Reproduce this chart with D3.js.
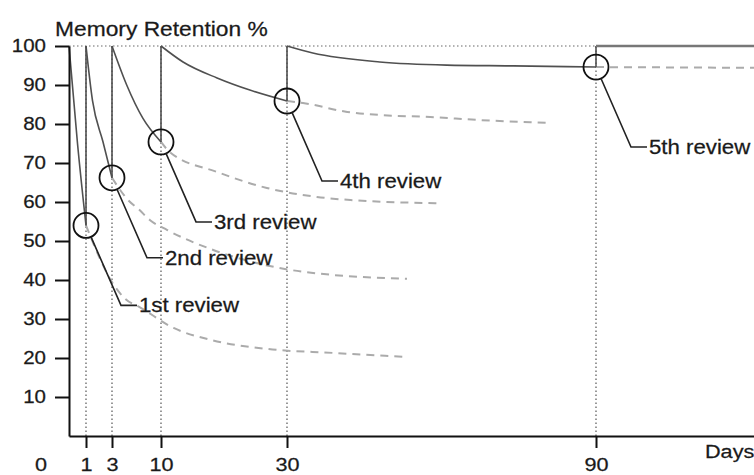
<!DOCTYPE html>
<html>
<head>
<meta charset="utf-8">
<script src="https://cdn.jsdelivr.net/npm/d3@7"></script>
<style>
  body { margin: 0; background: #fff; }
  svg { display: block; font-family: "Liberation Sans", Arial, Helvetica, sans-serif; }
  text { fill: #1a1a1a; transform-box: fill-box; stroke: #1a1a1a; stroke-width: 0.25px; }
  .wide-l { transform-origin: left center; transform: scaleX(1.14); }
  .wide-c { transform-origin: center center; transform: scaleX(1.14); }
  .wide-r { transform-origin: right center; transform: scaleX(1.14); }
</style>
</head>
<body>
<div id="chart"></div>
<script>
// Valores (dias, % de retencion)
const dayTicks = [1, 3, 10, 30, 90];
const pctTicks = [10, 20, 30, 40, 50, 60, 70, 80, 90, 100];
const reviewDays = [1, 3, 10, 30, 90];
const reviewPct = [54, 66.2, 75.4, 85.9, 94.6];
const reviewLabels = ['1st review', '2nd review', '3rd review', '4th review', '5th review'];

// curvas de olvido tras cada repaso (solidas)
const decay1 = [[0, 100], [0.5, 75], [1, 54]];
const decay2 = [[1, 100], [1.5, 86], [2.3, 75.5], [3, 66.2]];
const decay3 = [[3, 100], [5.1, 90], [7.4, 81.5], [10, 75.4]];
const decay4 = [[10, 100], [13.5, 95.9], [18.9, 91.8], [24.1, 88.7], [30, 85.9]];
const decay5 = [[30, 100], [35, 98.2], [48, 95.9], [61, 95.1], [73.9, 94.9], [90, 94.6]];
const plateau = [[90, 100], [121, 100]];

// lo que pasaria sin repaso (discontinuas)
const fade1 = [[1, 54], [2, 46], [2.9, 40], [5, 35], [7, 33], [12, 27.7], [18, 24.6], [27, 22.3], [39, 21.3], [52.5, 20.3]];
const fade2 = [[3, 66.2], [5.3, 60.5], [6.9, 58], [8.4, 55.4], [11, 52.8], [18.3, 47.7], [30.6, 42.6], [38.9, 41.3], [53.3, 40.3]];
const fade3 = [[10, 75.4], [11.4, 72.8], [18.9, 67.7], [26.8, 63.6], [35.8, 61.3], [42.3, 60.5], [59.1, 59.7]];
const fade4 = [[30, 85.9], [33.1, 85.4], [41.7, 83.1], [48.1, 82.3], [57.8, 81.8], [67.5, 81], [80.5, 80.3]];
const fade5 = [[90, 94.6], [121, 94.4]];

const decays = [decay1, decay2, decay3, decay4, decay5];
const fades = [fade1, fade2, fade3, fade4, fade5];

const W = 754, H = 475;

// Escalas (eje de dias esquematico, no lineal)
const x = d3.scaleLinear()
    .domain([0, 1, 3, 10, 30, 90, 121])
    .range([69, 86, 112, 161, 287, 596, 756]);

const y = d3.scaleLinear()
    .domain([0, 100])
    .range([436, 46]);

const svg = d3.select('#chart')
    .append('svg')
    .attr('width', W)
    .attr('height', H);

const line = d3.line()
    .x(d => x(d[0]))
    .y(d => y(d[1]))
    .curve(d3.curveMonotoneX);

// Lineas punteadas de referencia
svg.append('line')
    .attr('x1', x(0)).attr('x2', x(90))
    .attr('y1', y(100)).attr('y2', y(100))
    .style('stroke', '#9a9a9a')
    .style('stroke-width', 1.5)
    .style('stroke-dasharray', '1.5,2.5');

svg.selectAll('.vguide')
    .data(reviewDays)
    .enter().append('line')
    .attr('class', 'vguide')
    .attr('x1', d => x(d)).attr('x2', d => x(d))
    .attr('y1', y(0)).attr('y2', y(100))
    .style('stroke', '#555')
    .style('stroke-width', 1.2)
    .style('stroke-dasharray', '1.5,2.5');

// Curvas discontinuas
svg.selectAll('.fade')
    .data(fades)
    .enter().append('path')
    .attr('class', 'fade')
    .attr('d', line)
    .style('fill', 'none')
    .style('stroke', '#ababab')
    .style('stroke-width', 2)
    .style('stroke-dasharray', '8,6');

// Curvas solidas
svg.selectAll('.decay')
    .data(decays)
    .enter().append('path')
    .attr('class', 'decay')
    .attr('d', line)
    .style('fill', 'none')
    .style('stroke', '#505050')
    .style('stroke-width', 1.6);

// Saltos verticales en cada repaso
svg.selectAll('.jump')
    .data(reviewDays)
    .enter().append('line')
    .attr('class', 'jump')
    .attr('x1', d => x(d)).attr('x2', d => x(d))
    .attr('y1', (d, i) => y(reviewPct[i])).attr('y2', y(100))
    .style('stroke', '#505050')
    .style('stroke-width', 1.6);

svg.append('path')
    .datum(plateau)
    .attr('d', line)
    .style('fill', 'none')
    .style('stroke', '#777')
    .style('stroke-width', 2.6);

// Circulos y etiquetas
const r = 12.5;
const lead = { dx: 35, dy: 80, run: 16 };

reviewDays.forEach((d, i) => {
    const cx = x(d), cy = y(reviewPct[i]);
    const ex = cx + lead.dx, ey = cy + lead.dy;
    const len = Math.hypot(lead.dx, lead.dy);

    svg.append('circle')
        .attr('cx', cx).attr('cy', cy).attr('r', r)
        .style('fill', 'none')
        .style('stroke', '#111')
        .style('stroke-width', 1.8);

    svg.append('path')
        .attr('d', `M${cx + r * lead.dx / len},${cy + r * lead.dy / len}L${ex},${ey}H${ex + lead.run}`)
        .style('fill', 'none')
        .style('stroke', '#222')
        .style('stroke-width', 1.6);

    svg.append('text')
        .attr('class', 'wide-l')
        .attr('x', ex + lead.run + 2)
        .attr('y', ey)
        .attr('dy', '0.35em')
        .style('font-size', '19.5px')
        .text(reviewLabels[i]);
});

// Ejes
const gx = svg.append('g')
    .attr('transform', `translate(0,${y(0)})`)
    .call(d3.axisBottom(x).tickValues(dayTicks).tickSize(12).tickSizeOuter(0).tickPadding(10).tickFormat(d3.format('d')));

const gy = svg.append('g')
    .attr('transform', `translate(${x(0)},0)`)
    .call(d3.axisLeft(y).tickValues(pctTicks).tickSize(14).tickSizeOuter(0).tickPadding(9));

[gx, gy].forEach(g => {
    g.select('.domain').style('stroke', '#111').style('stroke-width', 2);
    g.selectAll('.tick line').style('stroke', '#111').style('stroke-width', 2);
    g.selectAll('text').style('font-family', '"Liberation Sans", Arial, sans-serif');
});
gx.selectAll('text').attr('class', 'wide-c').style('font-size', '19px');
gy.selectAll('text').attr('class', 'wide-r').style('font-size', '18px');

svg.append('text')
    .attr('class', 'wide-c')
    .attr('x', x(0) - 28)
    .attr('y', y(0) + 22)
    .attr('dy', '0.71em')
    .attr('text-anchor', 'middle')
    .style('font-size', '19px')
    .text('0');

svg.append('text')
    .attr('class', 'wide-l')
    .attr('x', 705)
    .attr('y', 458)
    .style('font-size', '19px')
    .text('Days');

svg.append('text')
    .attr('class', 'wide-l')
    .attr('x', 55)
    .attr('y', 36)
    .style('font-size', '20px')
    .text('Memory Retention %');
</script>
</body>
</html>
